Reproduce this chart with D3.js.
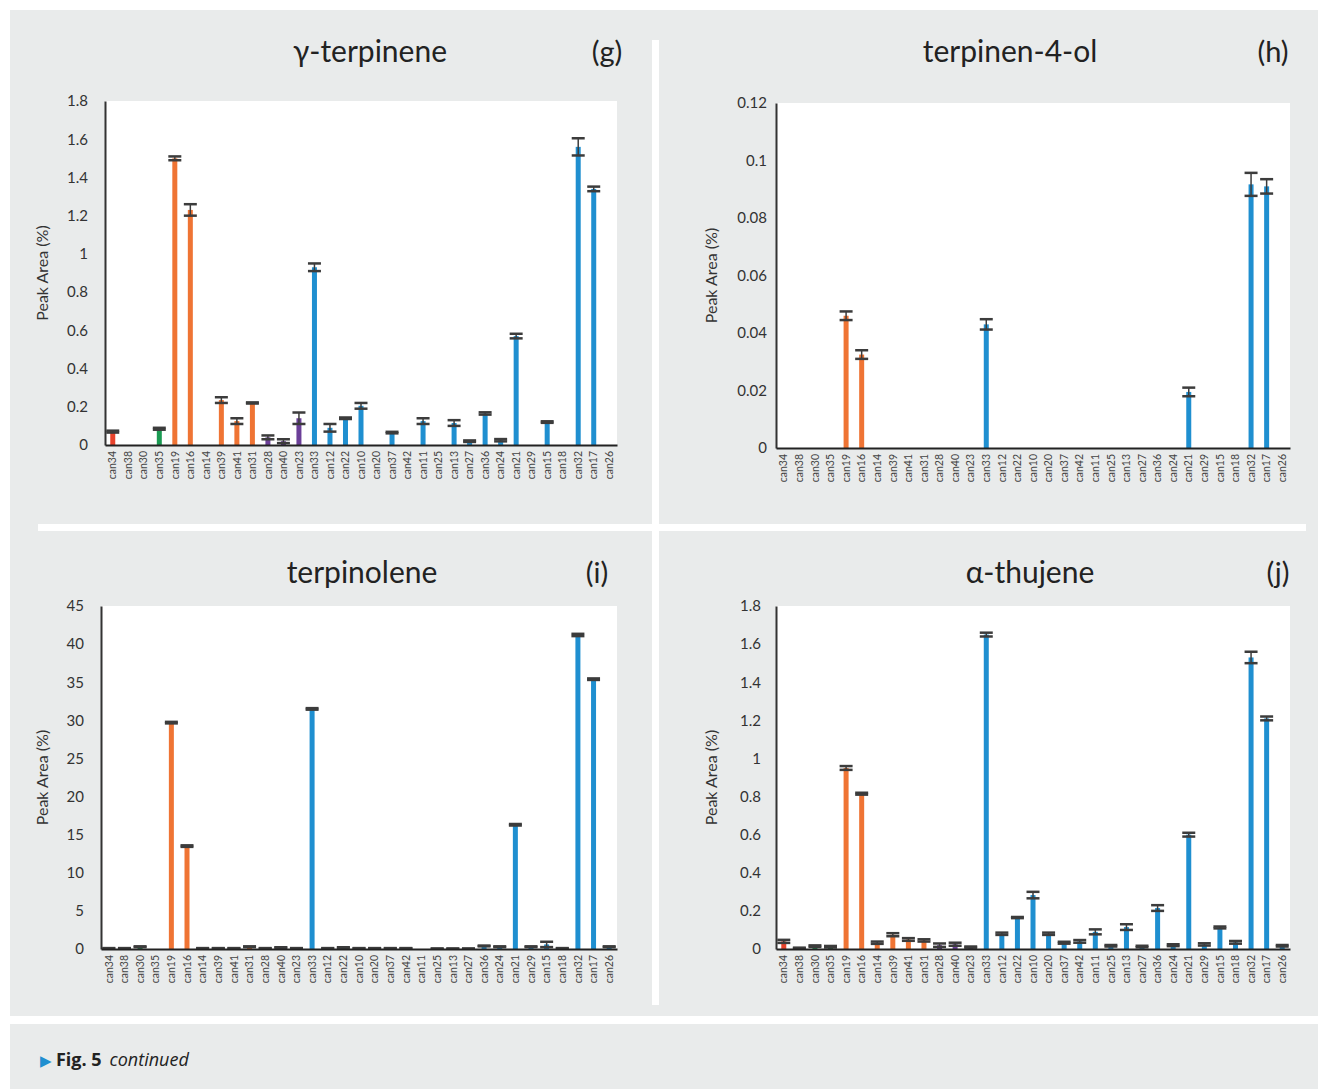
<!DOCTYPE html>
<html><head><meta charset="utf-8">
<script src="https://cdn.jsdelivr.net/npm/d3@7"></script>
<style>body{margin:0;background:#fff}svg{display:block}</style>
</head><body>
<script>
const categories = ["can34","can38","can30","can35","can19","can16","can14","can39","can41","can31","can28","can40","can23","can33","can12","can22","can10","can20","can37","can42","can11","can25","can13","can27","can36","can24","can21","can29","can15","can18","can32","can17","can26"];
const groups = ["red","green","green","green","orange","orange","orange","orange","orange","orange","purple","purple","purple","blue","blue","blue","blue","blue","blue","blue","blue","blue","blue","blue","blue","blue","blue","blue","blue","blue","blue","blue","blue"];

const gTerpMean = [0.07,0,0,0.085,1.50,1.23,0,0.235,0.125,0.22,0.04,0.02,0.14,0.93,0.09,0.14,0.205,0,0.065,0,0.125,0,0.115,0.02,0.165,0.025,0.57,0,0.12,0,1.56,1.34,0];
const gTerpSd   = [0.005,0,0,0.005,0.01,0.03,0,0.015,0.015,0.003,0.01,0.01,0.03,0.02,0.02,0.004,0.015,0,0.004,0,0.015,0,0.015,0.004,0.006,0.006,0.012,0,0.004,0,0.045,0.012,0];

const t4olMean = [0,0,0,0,0.046,0.0325,0,0,0,0,0,0,0,0.043,0,0,0,0,0,0,0,0,0,0,0,0,0.0195,0,0,0,0.0917,0.091,0];
const t4olSd   = [0,0,0,0,0.0015,0.0015,0,0,0,0,0,0,0,0.0018,0,0,0,0,0,0,0,0,0,0,0,0,0.0015,0,0,0,0.004,0.0025,0];

const tolMean = [0.1,0.1,0.3,0,29.7,13.5,0.1,0.1,0.1,0.3,0.1,0.2,0.1,31.5,0.1,0.2,0.1,0.1,0.1,0.1,0,0.05,0.05,0.05,0.4,0.3,16.3,0.3,0.6,0.1,41.2,35.4,0.3];
const tolSd   = [0.02,0.02,0.05,0,0.1,0.1,0.02,0.02,0.02,0.05,0.02,0.03,0.02,0.1,0.02,0.03,0.02,0.02,0.02,0.02,0,0.01,0.01,0.01,0.05,0.05,0.1,0.05,0.35,0.02,0.15,0.1,0.05];

const thuMean = [0.04,0.005,0.015,0.012,0.95,0.815,0.033,0.075,0.05,0.045,0.02,0.025,0.01,1.65,0.08,0.165,0.283,0.08,0.033,0.04,0.09,0.017,0.115,0.013,0.215,0.02,0.60,0.024,0.113,0.035,1.53,1.21,0.017];
const thuSd   = [0.008,0.002,0.004,0.004,0.01,0.005,0.006,0.008,0.007,0.006,0.009,0.008,0.003,0.01,0.006,0.003,0.017,0.006,0.005,0.007,0.013,0.004,0.015,0.004,0.015,0.005,0.01,0.006,0.005,0.007,0.03,0.01,0.004];

const yTicksG = [0,0.2,0.4,0.6,0.8,1,1.2,1.4,1.6,1.8];
const yTicksH = [0,0.02,0.04,0.06,0.08,0.1,0.12];
const yTicksI = [0,5,10,15,20,25,30,35,40,45];
const yTicksJ = [0,0.2,0.4,0.6,0.8,1,1.2,1.4,1.6,1.8];

const colors = {red:"#e8432c", orange:"#ef7434", green:"#1a9a52", purple:"#6b3f98", blue:"#1f8fd0"};

const W = 1320, H = 1089;
const svg = d3.select("body").append("svg").attr("width", W).attr("height", H);
const FONT = "Lato, 'Open Sans', sans-serif";

// backgrounds
svg.append("rect").attr("x",10).attr("y",10).attr("width",1308).attr("height",1006).attr("fill","#e9ebeb");
svg.append("rect").attr("x",10).attr("y",1024).attr("width",1308).attr("height",65).attr("fill","#e9ebeb");
svg.append("rect").attr("x",652).attr("y",40).attr("width",7).attr("height",965).attr("fill","#fff");
svg.append("rect").attr("x",38).attr("y",524).attr("width",1268).attr("height",7).attr("fill","#fff");

const panels = [
  {title:"γ-terpinene", tag:"(g)", mean:gTerpMean, sd:gTerpSd, ticks:yTicksG, max:1.8, L:105, T:101, R:617, B:445, titleX:370, tagX:607, titleY:62, labR:88, ylabX:48},
  {title:"terpinen-4-ol", tag:"(h)", mean:t4olMean, sd:t4olSd, ticks:yTicksH, max:0.12, L:776, T:103, R:1290, B:448, titleX:1010, tagX:1273, titleY:62, labR:767, ylabX:717},
  {title:"terpinolene", tag:"(i)", mean:tolMean, sd:tolSd, ticks:yTicksI, max:45, L:101, T:606, R:617, B:949, titleX:362, tagX:597, titleY:583, labR:84, ylabX:48},
  {title:"α-thujene", tag:"(j)", mean:thuMean, sd:thuSd, ticks:yTicksJ, max:1.8, L:776, T:606, R:1290, B:949, titleX:1030, tagX:1278, titleY:583, labR:761, ylabX:717}
];

panels.forEach(p => {
  const g = svg.append("g");
  const x = d3.scaleBand().domain(categories).range([p.L, p.R]).padding(0);
  const y = d3.scaleLinear().domain([0, p.max]).range([p.B, p.T]);
  g.append("rect").attr("x",p.L).attr("y",p.T).attr("width",p.R-p.L).attr("height",p.B-p.T).attr("fill","#fff");

  // title
  g.append("text").attr("x",p.titleX).attr("y",p.titleY).attr("text-anchor","middle")
    .attr("font-family",FONT).attr("font-size",30).attr("fill","#222").text(p.title);
  g.append("text").attr("x",p.tagX).attr("y",p.titleY).attr("text-anchor","middle")
    .attr("font-family",FONT).attr("font-size",29).attr("fill","#222").text(p.tag);

  // y axis
  const yAxis = d3.axisLeft(y).tickValues(p.ticks).tickSize(0).tickPadding(p.L - p.labR).tickFormat(d3.format(""));
  const ya = g.append("g").attr("transform",`translate(${p.L},0)`).call(yAxis);
  ya.select(".domain").attr("stroke","#333").attr("stroke-width",2);
  ya.selectAll("text").attr("font-family",FONT).attr("font-size",15).attr("fill","#333");

  g.append("text").attr("transform",`translate(${p.ylabX},${(p.T+p.B)/2}) rotate(-90)`)
    .attr("text-anchor","middle").attr("font-family",FONT).attr("font-size",16).attr("fill","#333").text("Peak Area (%)");

  // bars
  const bw = 5;
  g.selectAll(".bar").data(categories).enter().append("rect")
    .attr("x", (c)=> x(c) + x.bandwidth()/2 - bw/2)
    .attr("y", (c,i)=> y(p.mean[i]))
    .attr("width", bw)
    .attr("height", (c,i)=> p.B - y(p.mean[i]))
    .attr("fill", (c,i)=> colors[groups[i]]);

  // error bars
  const cw = 13;
  categories.forEach((c,i) => {
    if (p.mean[i] <= 0) return;
    const cx = x(c) + x.bandwidth()/2;
    const hi = y(p.mean[i] + p.sd[i]), lo = y(Math.max(0, p.mean[i] - p.sd[i]));
    g.append("line").attr("x1",cx).attr("x2",cx).attr("y1",hi).attr("y2",lo).attr("stroke","#3c3c3c").attr("stroke-width",1.5);
    g.append("line").attr("x1",cx-cw/2).attr("x2",cx+cw/2).attr("y1",hi).attr("y2",hi).attr("stroke","#3c3c3c").attr("stroke-width",2.5);
    g.append("line").attr("x1",cx-cw/2).attr("x2",cx+cw/2).attr("y1",lo).attr("y2",lo).attr("stroke","#3c3c3c").attr("stroke-width",2.5);
  });

  // x axis
  const xAxis = d3.axisBottom(x).tickSize(0).tickPadding(0);
  const xa = g.append("g").attr("transform",`translate(0,${p.B})`).call(xAxis);
  xa.select(".domain").attr("stroke","#222").attr("stroke-width",2);
  xa.selectAll("text").attr("font-family",FONT).attr("font-size",10.5).attr("fill","#444")
    .attr("text-anchor","end").attr("transform","rotate(-90)").attr("dx","-6").attr("dy","0.35em").attr("x",0).attr("y",0);
});

// caption
const cap = svg.append("text").attr("x",40).attr("y",1066).attr("font-family","'Open Sans', sans-serif").attr("font-size",18).attr("fill","#222");
cap.append("tspan").attr("fill","#1f8fd0").attr("font-size",15).text("▶ ");
cap.append("tspan").attr("font-weight","bold").text("Fig. 5");
cap.append("tspan").attr("font-style","italic").attr("dx",8).text("continued");
</script>
</body></html>
